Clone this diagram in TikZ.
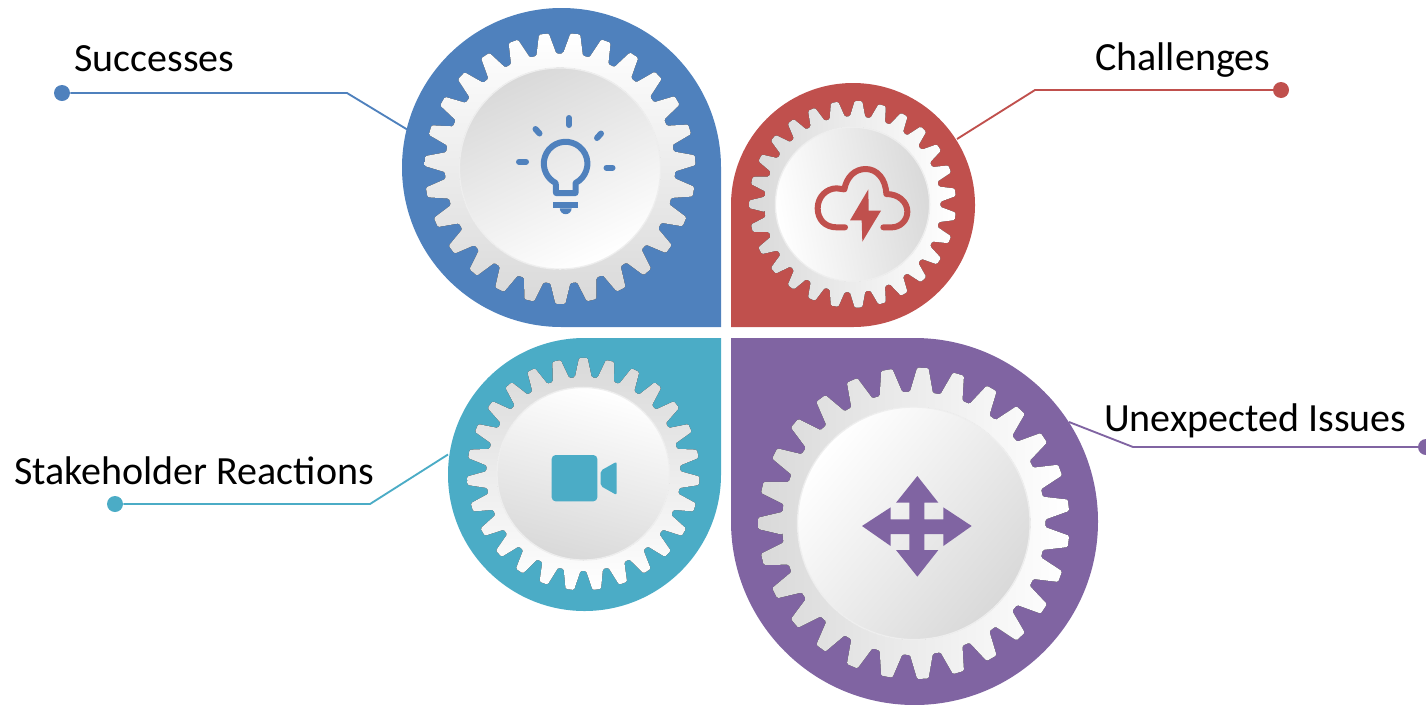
\documentclass[tikz,border=0pt]{standalone}
\usepackage{fontspec}
\setmainfont{Carlito}
\definecolor{petalblue}{RGB}{79,129,189}
\definecolor{petalred}{RGB}{192,80,77}
\definecolor{petalteal}{RGB}{75,172,198}
\definecolor{petalpurple}{RGB}{128,100,162}
\definecolor{gearshade}{RGB}{217,217,217}
\tikzset{
  leader/.style={line width=1.4pt},
  leaderdot/.style={circle,fill,inner sep=0pt,minimum size=12pt},
  caption/.style={anchor=base west,inner sep=0pt,font=\fontsize{30}{36}\selectfont},
  iconline/.style={line width=4.5pt,line cap=round,line join=round},
  discrim/.style={draw=gearshade!45,line width=1pt},
}
% cog wheel: centre, root radius, tip radius, phase, shading
\newcommand{\gearwheel}[5]{%
  \fill[#5,shift={#1},rounded corners=1pt] (#4-5:#2)
    \foreach \k in {0,...,26}{
      -- ({#4+\k*13.3333-5}:#2) -- ({#4+\k*13.3333-2.1}:#3)
      -- ({#4+\k*13.3333+2.1}:#3) -- ({#4+\k*13.3333+5}:#2)
    } -- cycle;
}
\begin{document}
\begin{tikzpicture}[x=0.75pt,y=0.75pt,yscale=-1,xscale=1]
\useasboundingbox (0,0) rectangle (1426,704);

%Petals
\fill [petalblue] (721,327) -- (721,167.5) arc [start angle=0,end angle=-270,radius=159.5] -- cycle;
\fill [petalred] (731,327) -- (731,205) arc [start angle=180,end angle=450,radius=122] -- cycle;
\fill [petalteal] (721,338) -- (721,474.5) arc [start angle=0,end angle=270,radius=136.5] -- cycle;
\fill [petalpurple] (731,338) -- (914.5,338) arc [start angle=270,end angle=540,radius=183.5] -- cycle;

%Gears
\gearwheel{(560,168.5)}{115}{135.5}{-83.5}{top color=white,bottom color=gearshade}
\gearwheel{(852.5,204.3)}{88}{103.5}{180}{left color=gearshade,right color=white}
\gearwheel{(583.3,474)}{97}{116.3}{-90}{top color=gearshade,bottom color=white}
\gearwheel{(913.8,523.3)}{131.7}{155.8}{180}{left color=gearshade,right color=white}

%Discs
\fill [discrim,top color=gearshade,bottom color=white,shading angle=25] (560,168.5) circle [radius=100.6];
\fill [discrim,top color=white,bottom color=gearshade,shading angle=100] (852.5,204.3) circle [radius=77.1];
\fill [discrim,top color=white,bottom color=gearshade,shading angle=-15] (583.3,473.7) circle [radius=86.3];
\fill [discrim,top color=white,bottom color=gearshade,shading angle=50] (913.8,523.3) circle [radius=116.3];

%Bulb
\draw [iconline,petalblue] (556,193) -- (575.5,193) -- (575.5,183) arc [start angle=63,end angle=-243,radius=21.8] -- cycle;
\draw [iconline,petalblue] (569,118) -- (569,125);
\draw [iconline,petalblue] (535.5,129) -- (539.5,133.5);
\draw [iconline,petalblue] (601,133.5) -- (597,138);
\draw [iconline,petalblue] (519,161.7) -- (526,161.7);
\draw [iconline,petalblue] (606.5,167.7) -- (612.5,167.7);
\fill [petalblue] (553.3,202.3) rectangle (578.3,208.3);
\fill [petalblue] (559.8,208.3) arc [start angle=180,end angle=0,radius=5.9] -- cycle;

%Cloud
\begin{scope}[shift={(725,70)},x=0.25pt,y=0.25pt]
\draw [iconline,petalred] (360,472) -- (335,472) .. controls (300,472) and (278,448) .. (278,415) .. controls (278,380) and (305,355) .. (335,355) -- (358,358) .. controls (365,320) and (390,297) .. (422,297) .. controls (455,297) and (482,325) .. (484,372) .. controls (520,372) and (547,395) .. (547,425) .. controls (547,452) and (525,472) .. (500,472) -- (475,472);
\fill [petalred] (430,358) -- (375,451) -- (410,451) -- (412,515) -- (468,422) -- (431,422) -- cycle;
\end{scope}

%Camera
\begin{scope}[shift={(530,440)},x=0.25pt,y=0.25pt]
\fill [petalteal,rounded corners=3pt] (65,45) rectangle (202,184);
\fill [petalteal,rounded corners=1.5pt] (212,92) -- (260,65) -- (260,165) -- (212,138) -- cycle;
\end{scope}

%Arrows
\begin{scope}[shift={(840,460)},x=0.25pt,y=0.25pt]
\fill [petalpurple] (232,48) -- (295,128) -- (253,128) -- (253,178) -- (310,178) -- (310,142) -- (395,198) -- (310,258) -- (310,222) -- (253,222) -- (253,270) -- (295,270) -- (232,350) -- (168,270) -- (208,270) -- (208,222) -- (152,222) -- (152,258) -- (66,198) -- (152,142) -- (152,178) -- (208,178) -- (208,128) -- (168,128) -- cycle;
\end{scope}

%Leader Lines
\node [leaderdot,petalblue] (dotsuccess) at (62,93) {};
\coordinate (kneesuccess) at (347,93);
\coordinate (endsuccess) at (408,130);
\draw [leader,petalblue] (dotsuccess) -- (kneesuccess) -- (endsuccess);

\node [leaderdot,petalred] (dotchallenge) at (1281,90) {};
\coordinate (kneechallenge) at (1035,90);
\coordinate (endchallenge) at (957,139);
\draw [leader,petalred] (dotchallenge) -- (kneechallenge) -- (endchallenge);

\node [leaderdot,petalteal] (dotreaction) at (115,504) {};
\coordinate (kneereaction) at (370,504);
\coordinate (endreaction) at (448,454.5);
\draw [leader,petalteal] (dotreaction) -- (kneereaction) -- (endreaction);

\node [leaderdot,petalpurple] (dotissue) at (1426,447) {};
\coordinate (kneeissue) at (1133,447);
\coordinate (endissue) at (1069,422);
\draw [leader,petalpurple] (dotissue) -- (kneeissue) -- (endissue);

% Text Node
\node [caption] (success) at (74,71) {Successes};
% Text Node
\node [caption] (challenge) at (1095,70) {Challenges};
% Text Node
\node [caption] (issue) at (1104,431) {Unexpected Issues};
% Text Node
\node [caption] (reaction) at (14,484) {Stakeholder Reactions};

\end{tikzpicture}
\end{document}
